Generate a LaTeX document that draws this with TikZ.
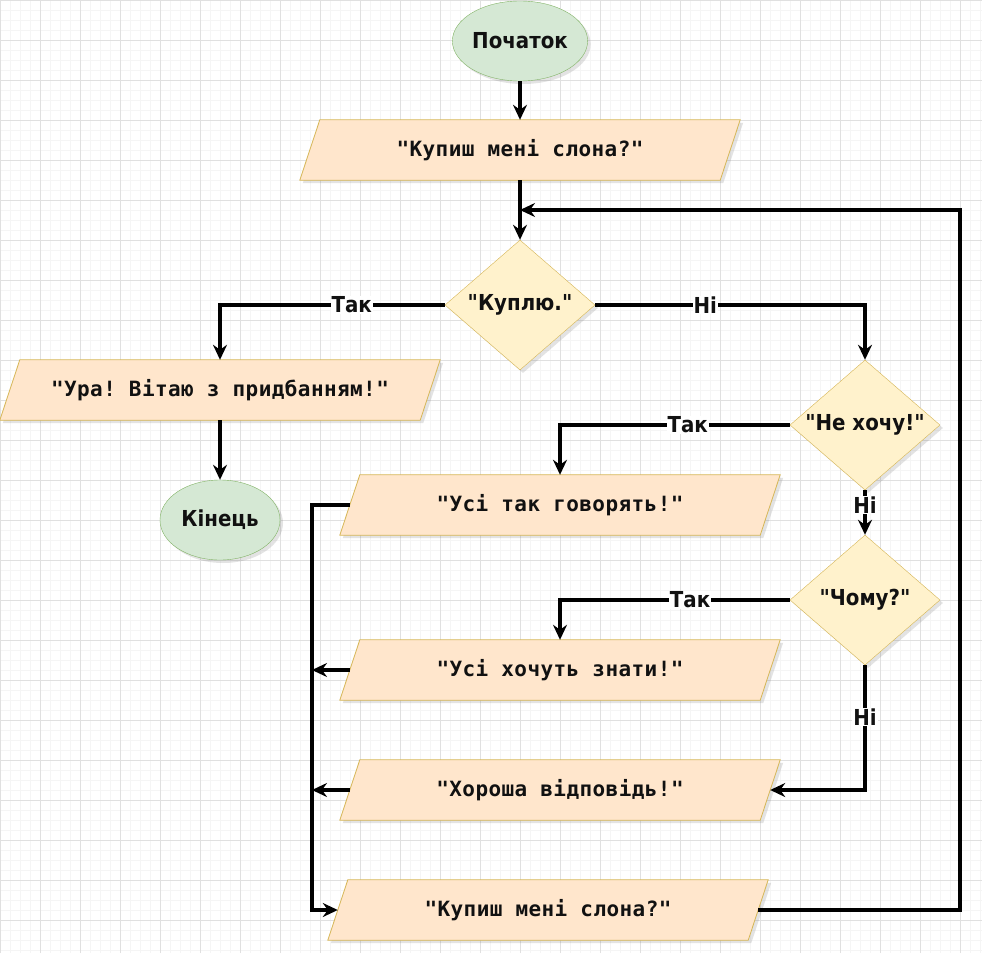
\documentclass[tikz,border=0pt]{standalone}
\usepackage{fontspec}
\newfontfamily\dvs[Ligatures=TeXOff]{DejaVu Sans Condensed}
\newfontfamily\dvm[Ligatures=TeXOff,LetterSpace=2.0]{DejaVu Sans Mono}
\usetikzlibrary{shapes.geometric,arrows.meta,shadows}
\pgfdeclarelayer{back}
\pgfdeclarelayer{bg}
\pgfsetlayers{back,bg,main}
\frenchspacing
\definecolor{grnfill}{HTML}{D5E8D4}
\definecolor{grnline}{HTML}{82B366}
\definecolor{ylwfill}{HTML}{FFF2CC}
\definecolor{ylwline}{HTML}{D6B656}
\definecolor{orgfill}{HTML}{FFE6CC}
\definecolor{orgline}{HTML}{D6B656}
\definecolor{txt}{HTML}{111111}
\definecolor{minorgrid}{HTML}{F5F5F5}
\definecolor{majorgrid}{HTML}{E0E0E0}
\tikzset{
  shadowed/.style={drop shadow={shadow xshift=3pt,shadow yshift=-3pt,opacity=0.22,fill=black!50}},
  term/.style={ellipse,draw=grnline,fill=grnfill,minimum width=120pt,minimum height=80pt,inner sep=0pt,
    font={\dvs\bfseries\fontsize{22}{26}\selectfont},text=txt,shadowed},
  dec/.style={diamond,draw=ylwline,fill=ylwfill,minimum width=150pt,minimum height=130pt,inner sep=-8pt,
    font={\dvs\bfseries\fontsize{22}{26}\selectfont},text=txt,shadowed},
  io/.style={rectangle,minimum width=440pt,minimum height=60pt,inner sep=0pt,
    font={\dvm\bfseries\fontsize{21}{25}\selectfont},text=txt},
  ioshape/.style={draw=orgline,fill=orgfill,line width=0.8pt},
  ioshadow/.style={fill=black!50,opacity=0.22},
  conn/.style={line width=3.3pt,black,-{Stealth[length=15pt,width=14pt,inset=5pt]}},
  lbl/.style={fill=white,inner sep=1pt,font={\dvs\bfseries\fontsize{22}{26}\selectfont},text=txt}
}
\newcommand{\iobox}[1]{%
  \fill[ioshadow] ([shift={(23pt,-3pt)}]#1.north west) -- ([shift={(3pt,-3pt)}]#1.north east)
     -- ([shift={(-17pt,-3pt)}]#1.south east) -- ([shift={(3pt,-3pt)}]#1.south west) -- cycle;
  \path[ioshape] ([xshift=20pt]#1.north west) -- (#1.north east)
     -- ([xshift=-20pt]#1.south east) -- (#1.south west) -- cycle;}
\begin{document}
\begin{tikzpicture}[x=1pt,y=-1pt]
\useasboundingbox (0,0) rectangle (982,953);
\begin{pgfonlayer}{back}
\fill[white] (0,0) rectangle (982,953);
\draw[minorgrid,line width=0.6pt,step=10pt] (0,0) grid (982,953);
\draw[majorgrid,line width=0.9pt,step=40pt] (0,0) grid (982,953);
\end{pgfonlayer}

\node[term] (start) at (520,41) {Початок};
\node[io] (q1) at (520,150) {"Купиш мені слона?"};
\node[dec] (d1) at (520,305) {"Куплю."};
\node[io] (p2) at (220,390) {"Ура! Вітаю з придбанням!"};
\node[term] (end) at (220,520) {Кінець};
\node[dec] (d2) at (865,425) {"Не хочу!"};
\node[io] (p3) at (560,505) {"Усі так говорять!"};
\node[dec] (d3) at (865,600) {"Чому?"};
\node[io] (p4) at (560,670) {"Усі хочуть знати!"};
\node[io] (p5) at (560,790) {"Хороша відповідь!"};
\node[io] (p6) at (548,910) {"Купиш мені слона?"};

\begin{pgfonlayer}{bg}
\iobox{q1}\iobox{p2}\iobox{p3}\iobox{p4}\iobox{p5}\iobox{p6}
\end{pgfonlayer}

\coordinate (bus) at (312,700);
\coordinate (rt) at (960,210);

\draw[conn] (start.south) -- (q1.north);
\draw[conn] (q1.south) -- (d1.north);
\draw[conn] (d1.west) -| node[lbl,pos=0.207] {Так} (p2.north);
\draw[conn] (d1.east) -| node[lbl,pos=0.204] {Ні} (d2.north);
\draw[conn] (p2.south) -- (end.north);
\draw[conn] (d2.west) -| node[lbl,pos=0.222] {Так} (p3.north);
\draw[conn] (d2.south) -- node[lbl,pos=0.33] {Ні} (d3.north);
\draw[conn] (d3.west) -| node[lbl,pos=0.217] {Так} (p4.north);
\draw[conn] (d3.south) |- node[lbl,pos=0.208] {Ні} ([xshift=-10pt]p5.east);
\draw[conn] ([xshift=10pt]p3.west) -- (bus |- p3.west) -- (bus |- p6.west) -- ([xshift=10pt]p6.west);
\draw[conn] ([xshift=10pt]p4.west) -- (bus |- p4.west);
\draw[conn] ([xshift=10pt]p5.west) -- (bus |- p5.west);
\draw[conn] ([xshift=-10pt]p6.east) -| (rt) -- (q1.south |- rt);
\end{tikzpicture}
\end{document}
